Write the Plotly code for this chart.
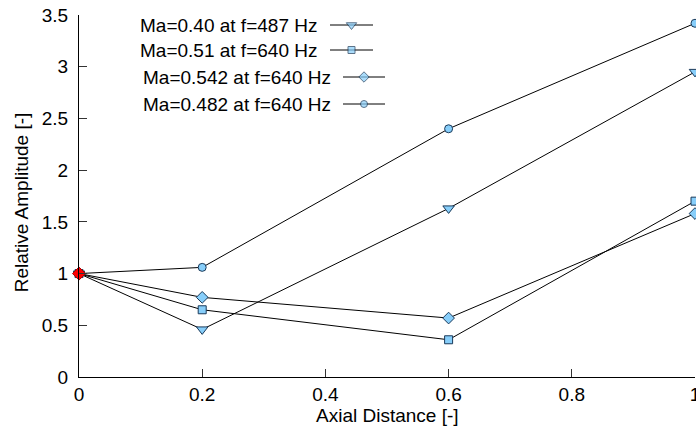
import plotly.graph_objects as go

# Axial positions of the measurement stations
axial_distance = [0.0, 0.2, 0.6, 1.0]

# Relative amplitude for each operating point
amp_ma040 = [1.0, 0.46, 1.63, 2.95]
amp_ma051 = [1.0, 0.65, 0.36, 1.70]
amp_ma0542 = [1.0, 0.77, 0.57, 1.58]
amp_ma0482 = [1.0, 1.06, 2.40, 3.42]

series_names = [
    "Ma=0.40 at f=487 Hz",
    "Ma=0.51 at f=640 Hz",
    "Ma=0.542 at f=640 Hz",
    "Ma=0.482 at f=640 Hz",
]
series_values = [amp_ma040, amp_ma051, amp_ma0542, amp_ma0482]
series_symbols = ["triangle-down", "square", "diamond", "circle"]
series_sizes = [10, 8, 9, 8]

# Reference point (normalisation station)
ref_x = [0.0]
ref_y = [1.0]

x_ticks = [0, 0.2, 0.4, 0.6, 0.8, 1]
x_ticklabels = ["0", "0.2", "0.4", "0.6", "0.8", "1"]
y_ticks = [0, 0.5, 1, 1.5, 2, 2.5, 3, 3.5]
y_ticklabels = ["0", "0.5", "1", "1.5", "2", "2.5", "3", "3.5"]

# Key layout in pixel units of the overlay axes: text right edge, sample line start/end, row centre
key_text_right = [319, 319, 333, 333]
key_line_start = [330, 330, 343, 343]
key_line_end = [373, 373, 385, 385]
key_row_y = [25, 50, 77, 104]

FONT = "Liberation Sans, Arial, sans-serif"
FSIZE = 19
FILL = "#87CEFA"
EDGE = "#1a3a5a"

fig = go.Figure()

for name, vals, sym, size in zip(series_names, series_values, series_symbols, series_sizes):
    fig.add_trace(go.Scatter(
        x=axial_distance, y=vals, mode="lines+markers", name=name,
        line=dict(color="black", width=1),
        marker=dict(symbol=sym, size=size, color=FILL, line=dict(color=EDGE, width=1)),
        showlegend=False, cliponaxis=False,
    ))

fig.add_trace(go.Scatter(
    x=ref_x, y=ref_y, mode="markers",
    marker=dict(symbol="diamond", size=10, color="#ff0000", line=dict(color="#aa0000", width=1)),
    showlegend=False, cliponaxis=False,
))

# Key entries: sample line with marker at its centre, drawn on pixel-space overlay axes
for i, (sym, size) in enumerate(zip(series_symbols, series_sizes)):
    xs = [key_line_start[i], (key_line_start[i] + key_line_end[i]) / 2, key_line_end[i]]
    ys = [key_row_y[i]] * 3
    fig.add_trace(go.Scatter(
        x=xs, y=ys, xaxis="x2", yaxis="y2", mode="lines+markers",
        line=dict(color="black", width=1),
        marker=dict(symbol=sym, size=[0, size - 1, 0], color=FILL,
                    line=dict(color=EDGE, width=1)),
        showlegend=False, cliponaxis=False, hoverinfo="skip",
    ))
    fig.add_annotation(
        x=key_text_right[i], y=key_row_y[i], xref="x2", yref="y2",
        text=series_names[i], showarrow=False, xanchor="right", yanchor="middle",
        font=dict(family=FONT, size=FSIZE, color="black"),
    )

# Axis titles placed as annotations in paper coordinates
fig.add_annotation(
    x=-0.094, y=0.483, xref="paper", yref="paper",
    text="Relative Amplitude [-]", textangle=-90, showarrow=False,
    xanchor="center", yanchor="middle",
    font=dict(family=FONT, size=FSIZE, color="black"),
)
fig.add_annotation(
    x=0.5, y=-0.105, xref="paper", yref="paper",
    text="Axial Distance [-]", showarrow=False,
    xanchor="center", yanchor="middle",
    font=dict(family=FONT, size=FSIZE, color="black"),
)

fig.update_layout(
    width=696, height=426,
    margin=dict(l=79, r=1, t=15, b=49),
    paper_bgcolor="white", plot_bgcolor="white",
    font=dict(family=FONT, size=FSIZE, color="black"),
    xaxis=dict(
        range=[0, 1], tickvals=x_ticks, ticktext=x_ticklabels,
        ticks="inside", ticklen=8, tickcolor="#333333",
        showline=True, linecolor="black", linewidth=1,
        showgrid=False, zeroline=False, ticklabelstandoff=0,
        ticklabeloverflow="allow", automargin=False,
    ),
    yaxis=dict(
        range=[0, 3.5], tickvals=y_ticks, ticktext=y_ticklabels,
        ticks="inside", ticklen=8, tickcolor="#333333",
        showline=True, linecolor="black", linewidth=1,
        showgrid=False, zeroline=False, ticklabelstandoff=6,
        ticklabeloverflow="allow", automargin=False,
    ),
    xaxis2=dict(overlaying="x", range=[79, 695], visible=False, fixedrange=True),
    yaxis2=dict(overlaying="y", range=[377, 15], visible=False, fixedrange=True),
)

fig.write_html("out.html")
